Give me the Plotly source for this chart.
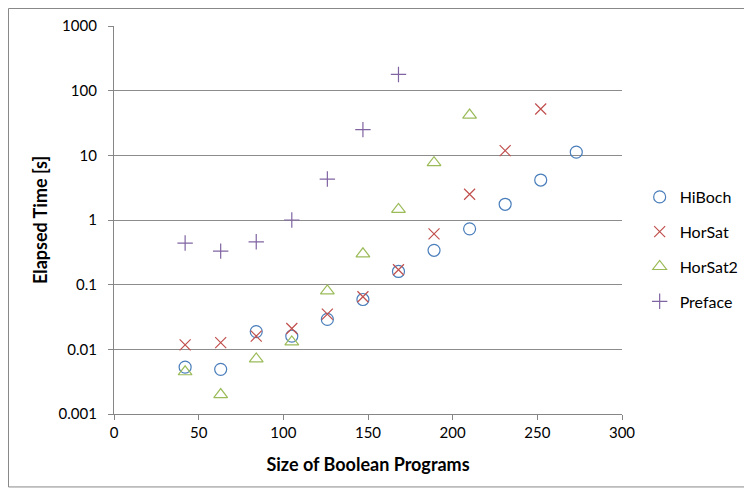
import plotly.graph_objects as go

x_vals = [42, 63, 84, 105, 126, 147, 168, 189, 210, 231, 252, 273]
hiboch = [0.0053, 0.0049, 0.0188, 0.016, 0.029, 0.059, 0.16, 0.34, 0.73, 1.75, 4.15, 11.2]
horsat = [0.0117, 0.0127, 0.016, 0.021, 0.035, 0.065, 0.17, 0.61, 2.5, 11.8, 52]
horsat2 = [0.0045, 0.002, 0.0071, 0.013, 0.08, 0.30, 1.46, 7.7, 42]
preface = [0.44, 0.33, 0.46, 1.0, 4.3, 25, 178]

y_tickvals = [0.001, 0.01, 0.1, 1, 10, 100, 1000]
y_ticktext = ["0.001", "0.01", "0.1", "1", "10", "100", "1000"]

series = [
    ("HiBoch", hiboch, "circle-open", "#4A7EBB", 12),
    ("HorSat", horsat, "x-thin-open", "#C0504D", 11),
    ("HorSat2", horsat2, "triangle-up-open", "#9BBB59", 12),
    ("Preface", preface, "cross-thin-open", "#8064A2", 11),
]

fig = go.Figure()
for name, ys, sym, col, sz in series:
    fig.add_trace(go.Scatter(
        x=x_vals[:len(ys)], y=ys, mode="markers", name=name,
        legendgroup=name,
        marker=dict(symbol=sym, size=sz, color=col, line=dict(color=col, width=1.2)),
    ))

font_family = "Lato, Open Sans, sans-serif"
fig.update_layout(
    width=744, height=483,
    margin=dict(l=106, r=130, t=18, b=77),
    paper_bgcolor="white", plot_bgcolor="white",
    font=dict(family=font_family, size=15, color="#000000"),
    showlegend=True,
    legend=dict(xref="container", yref="container", x=0.849, y=0.50,
                xanchor="left", yanchor="middle",
                font=dict(size=16), tracegroupgap=11, traceorder="grouped",
                itemwidth=30),
    xaxis=dict(range=[0, 300], dtick=50, tick0=0, showgrid=False,
               showline=True, linecolor="#868686", linewidth=1.2,
               ticks="outside", ticklen=5, tickcolor="#868686",
               zeroline=False, automargin=False,
               title=dict(text="<b>Size of Boolean Programs</b>", font=dict(size=18), standoff=18)),
    yaxis=dict(type="log", range=[-3, 3], tickvals=y_tickvals, ticktext=y_ticktext,
               showgrid=True, gridcolor="#8C8C8C", gridwidth=1.3,
               showline=True, linecolor="#868686", linewidth=1.2,
               ticks="outside", ticklen=5, tickcolor="#868686",
               ticklabelstandoff=8,
               zeroline=False, automargin=False,
               title=dict(text="<b>Elapsed Time [s]</b>", font=dict(size=18), standoff=6)),
)

fig.add_shape(type="rect", xref="paper", yref="paper",
              x0=-0.2077, x1=1.3, y0=-0.188, y1=1.0451,
              line=dict(color="#888888", width=1), fillcolor="rgba(0,0,0,0)", layer="below")

fig.write_html("out.html")
